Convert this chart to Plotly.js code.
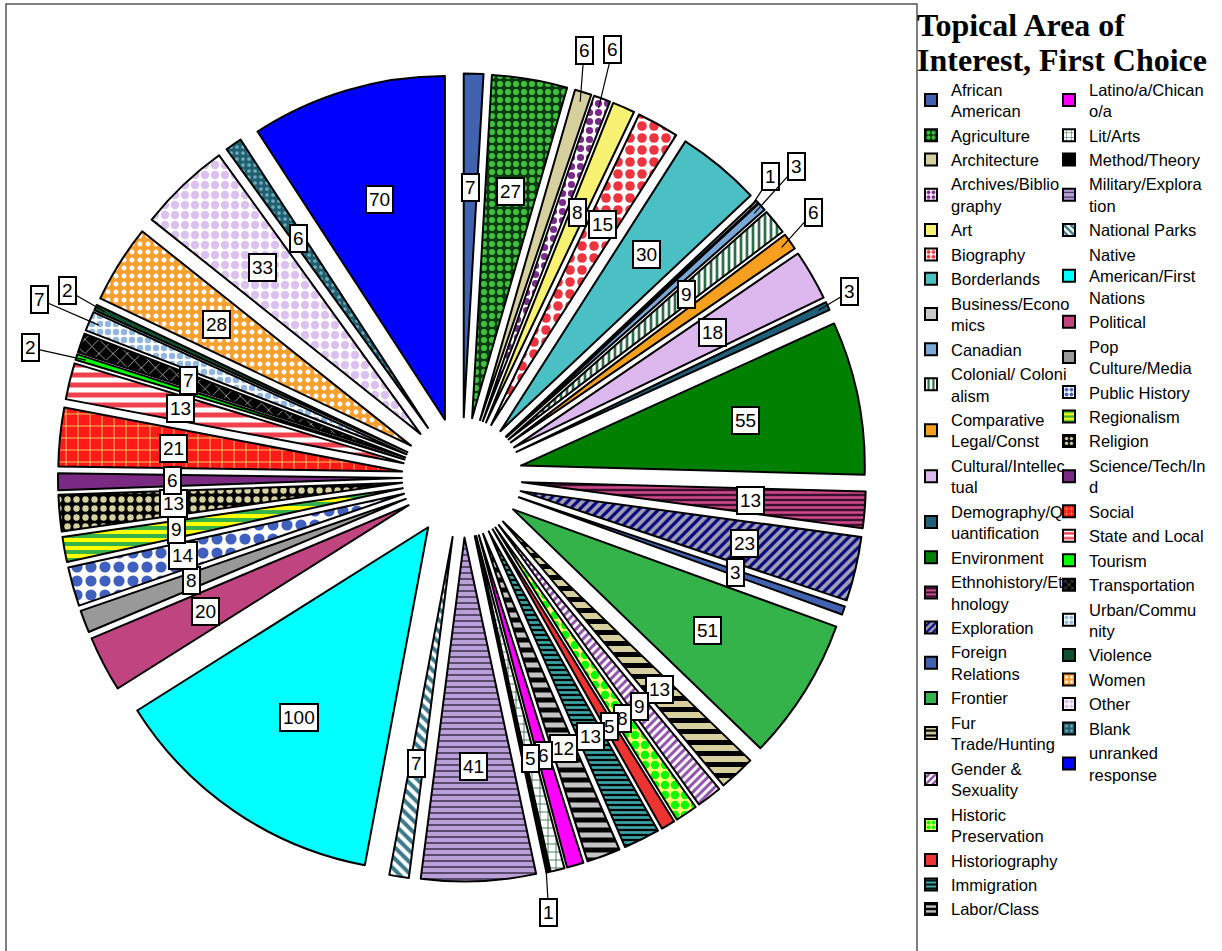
<!DOCTYPE html>
<html><head><meta charset="utf-8">
<script src="https://cdn.plot.ly/plotly-3.0.1.min.js"></script>
<style>html,body{margin:0;padding:0;background:#fff;} #chart{width:1222px;height:951px;}</style>
</head><body><div id="chart"></div>
<script>
// ---------------- DATA ----------------
const categories = [
 'African American','Agriculture','Architecture','Archives/Bibliography','Art','Biography',
 'Borderlands','Business/Economics','Canadian','Colonial/ Colonialism','Comparative Legal/Const',
 'Cultural/Intellectual','Demography/Quantification','Environment','Ethnohistory/Ethnology',
 'Exploration','Foreign Relations','Frontier','Fur Trade/Hunting','Gender & Sexuality',
 'Historic Preservation','Historiography','Immigration','Labor/Class',
 'Latino/a/Chicano/a','Lit/Arts','Method/Theory','Military/Exploration','National Parks',
 'Native American/First Nations','Political','Pop Culture/Media','Public History','Regionalism',
 'Religion','Science/Tech/Ind','Social','State and Local','Tourism','Transportation',
 'Urban/Community','Violence','Women','Other','Blank','unranked response'
];
const values = [
 7,27,6,6,8,15,
 30,1,3,9,6,
 18,3,55,13,
 23,3,51,13,9,
 8,5,13,12,
 6,5,1,41,7,
 100,20,8,14,9,
 13,6,21,13,2,7,
 7,2,28,33,6,70
];
// legend labels, wrapped as in the original legend
const legendNames = [
 'African<br>American','Agriculture','Architecture','Archives/Biblio<br>graphy','Art','Biography',
 'Borderlands','Business/Econo<br>mics','Canadian','Colonial/ Coloni<br>alism','Comparative<br>Legal/Const',
 'Cultural/Intellec<br>tual','Demography/Q<br>uantification','Environment','Ethnohistory/Et<br>hnology',
 'Exploration','Foreign<br>Relations','Frontier','Fur<br>Trade/Hunting','Gender &<br>Sexuality',
 'Historic<br>Preservation','Historiography','Immigration','Labor/Class',
 'Latino/a/Chican<br>o/a','Lit/Arts','Method/Theory','Military/Explora<br>tion','National Parks',
 'Native<br>American/First<br>Nations','Political','Pop<br>Culture/Media','Public History','Regionalism',
 'Religion','Science/Tech/In<br>d','Social','State and Local','Tourism','Transportation',
 'Urban/Commu<br>nity','Violence','Women','Other','Blank','unranked<br>response'
];
const firstColumnCount = 24;
const chartTitleLines = ['Topical Area of', 'Interest, First Choice'];

// ---------------- STYLES ----------------
const sliceStyles = [
 {c:'#4062b0'},
 {c:'#0c3a10', s:'.', fg:'#3ec23e', z:8, d:0.45},
 {c:'#d6cf9e'},
 {c:'#ffffff', s:'.', fg:'#7b2a8c', z:9, d:0.5},
 {c:'#f8f272'},
 {c:'#ffffff', s:'.', fg:'#ee3340', z:12, d:0.5},
 {c:'#4bc0c4'},
 {c:'#c8c8c8'},
 {c:'#7aa8d8'},
 {c:'#ffffff', s:'|', fg:'#2e6b48', z:6, d:0.45},
 {c:'#f7a020'},
 {c:'#dcb8ee'},
 {c:'#1f5f78'},
 {c:'#008000'},
 {c:'#3a1030', s:'-', fg:'#d04a8a', z:5, d:0.5},
 {c:'#a0a0b0', s:'/', fg:'#000080', z:7, d:0.45},
 {c:'#4062b0'},
 {c:'#33b34a'},
 {c:'#d6cf9e', s:'-', fg:'#000000', z:11, d:0.45},
 {c:'#ffffff', s:'/', fg:'#9050a8', z:6, d:0.5},
 {c:'#ffff70', s:'.', fg:'#00ff00', z:10, d:0.55},
 {c:'#ee3333'},
 {c:'#000000', s:'-', fg:'#3aa4a4', z:5, d:0.55},
 {c:'#000000', s:'-', fg:'#c4c4c4', z:10, d:0.5},
 {c:'#ff00ff'},
 {c:'#ffffff', s:'+', fg:'#2e6b40', z:8, d:0.2},
 {c:'#000000'},
 {c:'#b9a0d8', s:'-', fg:'#3a2e48', z:6, d:0.25},
 {c:'#ffffff', s:'\\', fg:'#3a7a8a', z:8, d:0.5},
 {c:'#00ffff'},
 {c:'#bf4480'},
 {c:'#999999'},
 {c:'#ffffff', s:'.', fg:'#4060c0', z:14, d:0.5},
 {c:'#33b34a', s:'-', fg:'#ffff00', z:8, d:0.5},
 {c:'#000000', s:'.', fg:'#d6cf9e', z:9, d:0.4},
 {c:'#7a2a82'},
 {c:'#ff1a1a', s:'+', fg:'#f0d060', z:12, d:0.15},
 {c:'#ffffff', s:'-', fg:'#f04050', z:10, d:0.5},
 {c:'#00ff00'},
 {c:'#000000', s:'x', fg:'#c0c0c0', z:10, d:0.15},
 {c:'#ffffff', s:'.', fg:'#90b8e0', z:8, d:0.5},
 {c:'#0f5030'},
 {c:'#f7a030', s:'.', fg:'#ffffff', z:8, d:0.3},
 {c:'#ffffff', s:'.', fg:'#dcc0f0', z:10, d:0.55},
 {c:'#1f5f70', s:'.', fg:'#70aab8', z:6, d:0.3},
 {c:'#0000ff'}
];
// labels drawn outside the pie with a leader line (angle nudge in degrees, distance / outer radius)
const outsideLabels = {
 'Architecture': {da:-1.5, k:1.10},
 'Archives/Bibliography': {da:-0.9, k:1.124},
 'Business/Economics': {da:-1.2, k:1.067},
 'Canadian': {da:-0.8, k:1.131},
 'Comparative Legal/Const': {da:-1.3, k:1.089},
 'Demography/Quantification': {da:-0.5, k:1.064},
 'Method/Theory': {da:1.0, k:1.099},
 'Tourism': {da:-0.6, k:1.116},
 'Urban/Community': {da:0.1, k:1.134},
 'Violence': {da:0.5, k:1.082}
};

// ---------------- LAYOUT GEOMETRY ----------------
const FW = 1222, FH = 951;
const M = {l:6, r:305, t:4, b:0};
const W = FW - M.l - M.r, H = FH - M.t - M.b;
const pull = 0.175;
const domX = [0.0571, 0.9440], domY = [0, 1];
// same geometry rule the pie uses
const cx = M.l + W*(domX[0]+domX[1])/2;
const cy = M.t + H*(1-(domY[0]+domY[1])/2);
const r = Math.min(W*(domX[1]-domX[0]), H*(domY[1]-domY[0]))/2/(1+pull);
const Rout = r*(1+pull);
const toXP = px => (px - M.l)/W;
const toYP = py => 1 - (py - M.t)/H;

const total = values.reduce((a,b)=>a+b,0);
const labelFont = {family:'Liberation Sans, Arial, sans-serif', size:19, color:'#000'};
const annotations = [];
let cum = 0;
values.forEach((v,i)=>{
  const mid = (cum + v/2)/total*2*Math.PI; cum += v;
  const o = outsideLabels[categories[i]];
  const base = {xref:'paper', yref:'paper', text:String(v), bgcolor:'#fff', bordercolor:'#000',
                borderwidth:2, borderpad:2, font:labelFont, xanchor:'center', yanchor:'middle'};
  if (!o) {
    const D = 0.717*Rout;
    annotations.push(Object.assign({}, base, {
      x: toXP(cx + D*Math.sin(mid)), y: toYP(cy - D*Math.cos(mid)), showarrow:false}));
  } else {
    const la = mid + o.da*Math.PI/180, D = o.k*Rout, Tt = 0.975*Rout;
    const tx = cx + Tt*Math.sin(mid), ty = cy - Tt*Math.cos(mid);
    const lx = cx + D*Math.sin(la), ly = cy - D*Math.cos(la);
    annotations.push(Object.assign({}, base, {
      x: toXP(tx), y: toYP(ty), ax: lx-tx, ay: ly-ty, axref:'pixel', ayref:'pixel',
      showarrow:true, arrowhead:0, arrowwidth:1.2, arrowcolor:'#000', standoff:0}));
  }
});
// chart title (two lines)
const titleFont = {family:'Liberation Serif, Times New Roman, serif', size:32, color:'#000'};
annotations.push({xref:'paper', yref:'paper', x:toXP(915), y:toYP(25), xanchor:'left', yanchor:'middle',
  text:'<b>'+chartTitleLines[0]+'</b>', showarrow:false, font:titleFont});
annotations.push({xref:'paper', yref:'paper', x:toXP(915), y:toYP(60), xanchor:'left', yanchor:'middle',
  text:'<b>'+chartTitleLines[1]+'</b>', showarrow:false, font:titleFont});

// ---------------- TRACES ----------------
const pie = {
  type:'pie', labels:categories, values:values, sort:false, direction:'clockwise', rotation:0,
  pull:pull, textinfo:'none', showlegend:false, domain:{x:domX, y:domY},
  marker:{
    colors: sliceStyles.map(s=>s.c),
    line:{color:'#000', width:2},
    pattern:{
      shape: sliceStyles.map(s=>s.s||''),
      fgcolor: sliceStyles.map(s=>s.fg||s.c),
      bgcolor: sliceStyles.map(s=>s.c),
      size: sliceStyles.map(s=>s.z||8),
      solidity: sliceStyles.map(s=>s.d||0.3)
    }
  },
  hoverinfo:'label+value'
};
const legendTraces = categories.map((c,i)=>{
  const s = sliceStyles[i];
  const mk = {color:s.c, line:{color:'#000', width:2}};
  if (s.s) mk.pattern = {shape:s.s, fgcolor:s.fg, bgcolor:s.c, size:Math.min(s.z,6), solidity:s.d};
  return {type:'bar', x:[null], y:[null], name:legendNames[i], marker:mk,
          legend: i < firstColumnCount ? 'legend' : 'legend2', hoverinfo:'skip', showlegend:true};
});

const legendFont = {family:'Liberation Sans, Arial, sans-serif', size:16.5, color:'#000'};
const layout = {
  width:FW, height:FH, margin:{l:M.l, r:M.r, t:M.t, b:M.b, autoexpand:false},
  paper_bgcolor:'#fff', plot_bgcolor:'rgba(0,0,0,0)',
  xaxis:{visible:false}, yaxis:{visible:false},
  showlegend:true,
  legend:{x:toXP(911), xanchor:'left', y:toYP(72), yanchor:'top', font:legendFont,
          bgcolor:'rgba(0,0,0,0)', borderwidth:0, traceorder:'normal', itemclick:false, itemdoubleclick:false},
  legend2:{x:toXP(1049), xanchor:'left', y:toYP(72), yanchor:'top', font:legendFont,
          bgcolor:'rgba(0,0,0,0)', borderwidth:0, traceorder:'normal', itemclick:false, itemdoubleclick:false},
  shapes:[{type:'rect', xref:'paper', yref:'paper', x0:0, x1:1, y0:-0.002, y1:1,
           line:{color:'#555', width:1.5}, fillcolor:'rgba(0,0,0,0)', layer:'below'}],
  annotations:annotations
};
Plotly.newPlot('chart', [pie].concat(legendTraces), layout, {displayModeBar:false, responsive:false});
</script>
</body></html>
